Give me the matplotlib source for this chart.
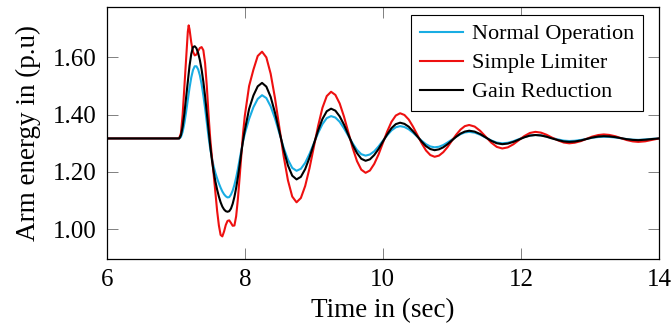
import matplotlib
matplotlib.use("Agg")
import matplotlib.pyplot as plt

plt.rcParams['font.family'] = ['Liberation Serif', 'DejaVu Serif']

# time samples (s)
t = [6.0, 7.0, 7.025, 7.05, 7.075, 7.1, 7.125, 7.15, 7.175, 7.1875,
     7.2, 7.225, 7.25, 7.275, 7.3, 7.325, 7.35, 7.375, 7.4, 7.425,
     7.45, 7.475, 7.5, 7.525, 7.55, 7.575, 7.6, 7.625, 7.65, 7.675,
     7.7, 7.725, 7.75, 7.775, 7.8, 7.825, 7.85, 7.875, 7.9, 7.925,
     7.95, 7.975, 8.0,
     8.0625, 8.125, 8.1875, 8.25,
     8.3125, 8.375, 8.4375, 8.5, 8.5625, 8.625, 8.6875, 8.75,
     8.8125, 8.875, 8.9375, 9.0, 9.0625, 9.125, 9.1875, 9.25,
     9.3125, 9.375, 9.4375, 9.5, 9.5625, 9.625, 9.6875, 9.75,
     9.8125, 9.875, 9.9375, 10.0, 10.0625, 10.125, 10.1875, 10.25,
     10.3125, 10.375, 10.4375, 10.5, 10.5625, 10.625, 10.6875, 10.75,
     10.8125, 10.875, 10.9375, 11.0, 11.0625, 11.125, 11.1875, 11.25,
     11.33, 11.41, 11.49, 11.57, 11.65, 11.73,
     11.81, 11.89, 11.97, 12.05, 12.13, 12.21,
     12.29, 12.37, 12.45, 12.54, 12.62, 12.7,
     12.78, 12.87, 12.95, 13.03, 13.12, 13.2,
     13.28, 13.37, 13.45, 13.53, 13.62, 13.7,
     13.8, 13.9, 14.0]

normal_operation = [
    1.317, 1.317, 1.317, 1.317, 1.322, 1.340, 1.370, 1.409, 1.452, 1.473,
    1.494, 1.530, 1.556, 1.569, 1.569, 1.558, 1.537, 1.506, 1.467, 1.422,
    1.373, 1.323, 1.280, 1.247, 1.219, 1.196, 1.177, 1.160, 1.145, 1.132,
    1.122, 1.115, 1.111, 1.112, 1.121, 1.135, 1.155, 1.180, 1.210, 1.243,
    1.276, 1.306, 1.333,
    1.385, 1.426, 1.455, 1.468,
    1.458, 1.429, 1.387, 1.336, 1.285, 1.243, 1.214, 1.204,
    1.211, 1.232, 1.263, 1.300, 1.336, 1.367, 1.388, 1.395,
    1.390, 1.375, 1.352, 1.326, 1.300, 1.277, 1.262, 1.257,
    1.261, 1.272, 1.289, 1.309, 1.328, 1.345, 1.356, 1.360,
    1.357, 1.349, 1.337, 1.323, 1.309, 1.297, 1.289, 1.286,
    1.288, 1.294, 1.303, 1.313, 1.323, 1.332, 1.338, 1.340,
    1.3373, 1.330, 1.320, 1.310, 1.3027, 1.300,
    1.3019, 1.3073, 1.3145, 1.3218, 1.3271, 1.329,
    1.3276, 1.3238, 1.3185, 1.3133, 1.3094, 1.308,
    1.3090, 1.3118, 1.3155, 1.3193, 1.3220, 1.323,
    1.3223, 1.3203, 1.3175, 1.3148, 1.3127, 1.312,
    1.3135, 1.3155, 1.317]

simple_limiter = [
    1.317, 1.317, 1.317, 1.318, 1.335, 1.400, 1.495, 1.595, 1.690, 1.712,
    1.698, 1.652, 1.620, 1.607, 1.610, 1.623, 1.633, 1.636, 1.625, 1.580,
    1.500, 1.400, 1.315, 1.250, 1.190, 1.125, 1.063, 1.013, 0.980, 0.975,
    0.992, 1.015, 1.029, 1.031, 1.022, 1.012, 1.013, 1.045, 1.105, 1.180,
    1.260, 1.335, 1.395,
    1.500, 1.557, 1.605, 1.620,
    1.600, 1.543, 1.458, 1.357, 1.256, 1.171, 1.114, 1.094,
    1.109, 1.151, 1.213, 1.287, 1.361, 1.424, 1.465, 1.480,
    1.469, 1.439, 1.393, 1.339, 1.284, 1.238, 1.208, 1.197,
    1.205, 1.228, 1.261, 1.301, 1.341, 1.375, 1.397, 1.405,
    1.399, 1.383, 1.358, 1.329, 1.300, 1.275, 1.259, 1.253,
    1.257, 1.269, 1.287, 1.309, 1.330, 1.348, 1.360, 1.364,
    1.3585, 1.3435, 1.323, 1.3025, 1.2875, 1.282,
    1.2859, 1.2965, 1.311, 1.3255, 1.3361, 1.340,
    1.3373, 1.330, 1.320, 1.310, 1.3027, 1.300,
    1.3021, 1.3078, 1.3155, 1.3233, 1.3289, 1.331,
    1.3293, 1.3245, 1.318, 1.3115, 1.3067, 1.305,
    1.307, 1.312, 1.317]

gain_reduction = [
    1.317, 1.317, 1.317, 1.317, 1.328, 1.358, 1.404, 1.460, 1.518, 1.546,
    1.571, 1.612, 1.636, 1.639, 1.632, 1.615, 1.590, 1.557, 1.515, 1.465,
    1.408, 1.348, 1.290, 1.240, 1.200, 1.166, 1.138, 1.114, 1.094, 1.079,
    1.069, 1.063, 1.061, 1.063, 1.072, 1.089, 1.113, 1.144, 1.181, 1.223,
    1.268, 1.310, 1.345,
    1.420, 1.467, 1.499, 1.511,
    1.498, 1.462, 1.407, 1.343, 1.278, 1.223, 1.187, 1.174,
    1.183, 1.210, 1.250, 1.298, 1.345, 1.385, 1.412, 1.421,
    1.414, 1.394, 1.365, 1.330, 1.295, 1.266, 1.246, 1.239,
    1.244, 1.259, 1.280, 1.306, 1.331, 1.353, 1.367, 1.372,
    1.368, 1.358, 1.342, 1.324, 1.306, 1.290, 1.280, 1.276,
    1.279, 1.286, 1.297, 1.310, 1.323, 1.334, 1.341, 1.344,
    1.3409, 1.3323, 1.3205, 1.3088, 1.3002, 1.297,
    1.2991, 1.305, 1.313, 1.321, 1.3269, 1.329,
    1.3274, 1.323, 1.317, 1.311, 1.3066, 1.305,
    1.3063, 1.310, 1.315, 1.320, 1.3237, 1.325,
    1.3241, 1.3215, 1.318, 1.3145, 1.3119, 1.311,
    1.3125, 1.315, 1.317]

series_labels = ["Normal Operation", "Simple Limiter", "Gain Reduction"]
x_ticks = [6, 8, 10, 12, 14]
y_ticks = [1.00, 1.20, 1.40, 1.60]
y_tick_labels = ["1.00", "1.20", "1.40", "1.60"]

fig = plt.figure(figsize=(6.72, 3.31), dpi=100)
L, R, T, B = 106.7, 659.0, 7.3, 259.0
ax = fig.add_axes([L / 672, 1 - B / 331, (R - L) / 672, (B - T) / 331])

ax.plot(t, normal_operation, color='#19ADE3', lw=1.5, label=series_labels[0])
ax.plot(t, simple_limiter, color='#EE1010', lw=1.5, label=series_labels[1])
ax.plot(t, gain_reduction, color='black', lw=1.5, label=series_labels[2])

ax.set_xlim(6, 14)
ax.set_ylim(0.896, 1.775)
ax.set_xticks(x_ticks)
ax.set_xticklabels([str(v) for v in x_ticks])
ax.set_yticks(y_ticks)
ax.set_yticklabels(y_tick_labels)
ax.tick_params(direction='in', length=8, width=0.7, color='0.5',
               top=True, right=True, labelsize=18, pad=7)
for s in ax.spines.values():
    s.set_linewidth(0.9)
    s.set_color('black')

ax.set_xlabel("Time in (sec)", fontsize=19.5, labelpad=5)
ax.set_ylabel("Arm energy in (p.u)", fontsize=19.5, labelpad=9)

leg = ax.legend(loc='upper right', bbox_to_anchor=(0.9705, 0.9694),
                fontsize=16, frameon=True, fancybox=False,
                edgecolor='black', framealpha=1, handlelength=1.95,
                handletextpad=0.38, labelspacing=0.38, borderpad=0.4,
                borderaxespad=0)
leg.get_frame().set_linewidth(0.8)

fig.savefig("out.png", dpi=100)
